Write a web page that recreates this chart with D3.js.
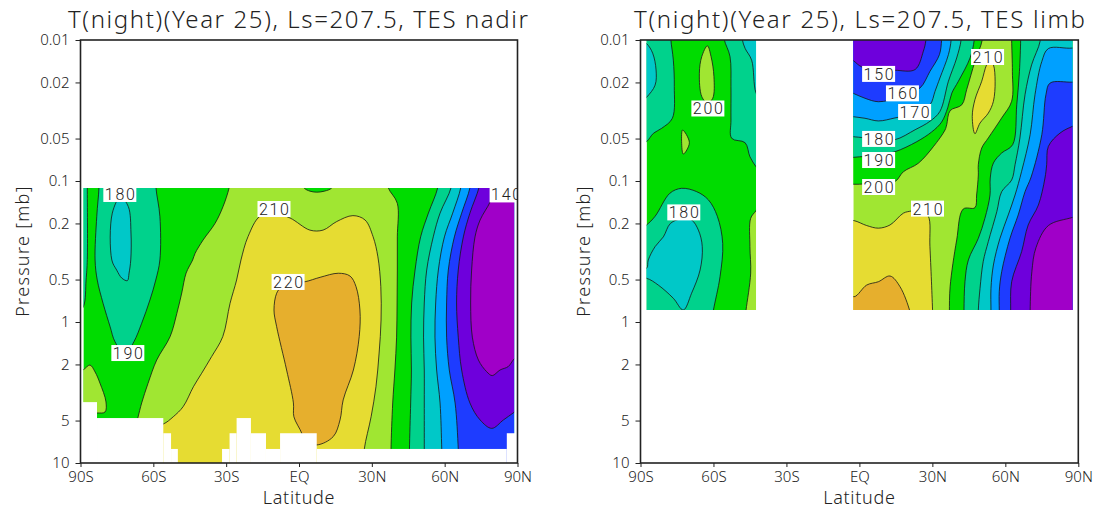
<!DOCTYPE html>
<html><head><meta charset="utf-8">
<script src="https://cdn.jsdelivr.net/npm/d3@7"></script>
<style>
html,body{margin:0;padding:0;background:#fff}
svg{display:block}
text{font-family:"Noto Sans","DejaVu Sans",sans-serif;font-weight:300;fill:#222}
</style></head><body><svg id="c" width="1095" height="511"></svg>
<script>
// Band colours between contour levels
const levels=[140,150,160,170,180,190,200,210,220];
const bandColours=["#a000c8","#6e00dc","#1e3cff","#00a0ff","#00c8c8","#00d28c","#00dc00","#a0e632","#e6dc32","#e6af2d"];
const latTicks=[-90,-60,-30,0,30,60,90];
const latTickLabels=["90S","60S","30S","EQ","30N","60N","90N"];
const pTicks=[0.01,0.02,0.05,0.1,0.2,0.5,1,2,5,10];
const pTickLabels=["0.01","0.02","0.05","0.1","0.2","0.5","1","2","5","10"];

// ---- TES nadir: isotherms as [latitude, pressure mb]
const nadirRange={lat:[-88.8,88.6],p:[0.112,10]};
const nadirWestSliver=[[-92,.09],[-87.2,.09],[-87.2,.112],[-87.2,.36],[-87.7,.504],[-88.8,.778],[-92,.9]];
const nadirWest190=[[-82.4,.09],[-82.4,.112],[-83.3,.178],[-84,.363],[-83.1,.504],[-80.7,.737],[-77.8,1.08],[-75.8,1.38],[-71.7,1.7],[-68,1.38],[-64.8,1.02],[-61.4,.698],[-59,.504],[-57.3,.363],[-57.3,.178],[-58.9,.112],[-58.9,.09]];
const nadirWest180=[[-73.5,.13],[-76.9,.169],[-77.1,.363],[-75.1,.428],[-73,.488],[-70.7,.509],[-70,.45],[-69.3,.363],[-69.2,.234],[-70.3,.152]];
const nadir200=[[36,.09],[36.8,.112],[40.5,.144],[40.5,.249],[40.5,.428],[40.4,.733],[40.2,1.28],[39.5,2.19],[38.6,3.75],[37.9,7.96],[37.9,11],[-69.6,11],[-69.6,8],[-66.4,4.8],[-64.8,3.75],[-62.2,2.73],[-58.6,1.86],[-53.1,1.27],[-50.3,.867],[-48.3,.623],[-46.5,.45],[-43.8,.363],[-42.8,.326],[-39.5,.262],[-34.6,.2],[-31.3,.152],[-28.8,.112],[-28,.09]];
const nadirNotch=[[1,.1],[2.1,.112],[4.5,.118],[7.3,.12],[10.5,.118],[13.5,.112],[14.5,.1]];
const nadirLobe=[[-92,2.26],[-89,2.19],[-86.1,2.02],[-84,2.26],[-82,2.71],[-79.5,3.69],[-79.9,4.35],[-83.2,4.42],[-92,4.42]];
const nadir210=[[-61.4,5.5],[-55.9,5.29],[-51.8,4.7],[-47.7,3.98],[-43.5,2.88],[-40.1,2.31],[-36,1.76],[-31.4,1.27],[-28.4,.737],[-25.7,.504],[-23.9,.363],[-21,.248],[-16.1,.178],[-10,.17],[-3.7,.183],[4.5,.223],[9.9,.223],[15.5,.194],[22.2,.176],[27.2,.189],[30.5,.248],[32.5,.345],[33.7,.562],[33.8,.968],[33,1.66],[31.7,2.88],[29.7,4.7],[26.9,7.96],[26.5,11],[-61.4,11]];
const nadir220=[[-3,.53],[2.5,.518],[8.7,.482],[16.2,.451],[21,.472],[23.5,.562],[25.1,.822],[24.8,1.27],[22.4,2.19],[18.2,3.57],[16.9,4.95],[14.1,6.5],[7.3,7.45],[2,7],[1.1,6.13],[-2.1,4.7],[-2.3,3.75],[-5.1,2.19],[-9.2,1.08],[-10.3,.822],[-9.2,.625],[-7.1,.562]];
const nadirE190=[[57.5,.09],[57.1,.112],[53.3,.169],[50.1,.249],[47.8,.428],[46.4,.733],[46.1,1.28],[46.3,2.19],[46,3.75],[45.5,7.96],[45.5,11],[95,11],[95,.09]];
const nadirE180=[[63,.09],[62.6,.112],[58.1,.169],[55.3,.249],[52.6,.428],[51.6,.733],[51.3,1.28],[51.6,2.19],[51.6,3.75],[51.6,7.96],[51.6,11],[95,11],[95,.09]];
const nadirE170=[[67,.09],[66.6,.112],[63.3,.169],[59.9,.249],[57.4,.428],[56.3,.733],[56,1.28],[56.7,2.19],[58.1,3.75],[58.8,7.96],[59,11],[95,11],[95,.09]];
const nadirE160=[[71,.09],[70.4,.112],[67,.169],[64,.249],[61.5,.428],[60.8,.733],[60.8,1.28],[61.9,2.19],[64.3,3.75],[65.6,7.96],[65.8,11],[95,11],[95,.09]];
const nadirE150=[[75,.09],[74.1,.112],[70.4,.169],[67.7,.249],[65.6,.428],[64.9,.733],[65.6,1.28],[67,2.19],[70.4,3.75],[74.6,4.95],[79.4,5.68],[84.2,4.95],[88.6,4.37],[95,3.6],[95,.09]];
const nadirE140=[[80,.09],[80,.12],[78.7,.141],[74.6,.189],[72.5,.249],[71.1,.428],[70.7,.733],[71.4,1.28],[73.9,1.86],[77.3,2.25],[79.6,2.4],[82.8,2.19],[86.2,2.07],[88.6,1.83],[95,1.5],[95,.09]];
// Missing data near the surface: [west lat, east lat, highest missing pressure]
const nadirMissing=[[-90,-83.2,3.7],[-83.2,-55.9,4.8],[-55.9,-52.7,6.15],[-52.7,-49.9,7.95],[-31.7,-28.6,7.95],[-28.6,-25.7,6.15],[-25.7,-19.8,4.8],[-19.8,-13.6,6.15],[-13.6,-7.8,7.95],[-7.8,7.3,6.15],[7.3,85.6,7.95],[85.6,90,6.15]];
const nadirLabels=[[-73.8,.1236,"180"],[-70.5,1.66,"190"],[-10.3,.158,"210"],[-4.5,.52,"220"],[85.3,.1245,"140"]];

// ---- TES limb, southern block
const limbSouthRange={lat:[-87.5,-42.5],p:[.01,.822]};
const limbSNW190=[[-77.5,.009],[-77.5,.01],[-76.5,.0139],[-76.1,.0214],[-76.9,.0359],[-81.3,.0423],[-84.7,.0459],[-87.5,.0526],[-92,.058],[-92,.009]];
const limbSNW180=[[-92,.0095],[-87.5,.0106],[-85,.0124],[-83.6,.0163],[-84,.0209],[-87.5,.0255],[-92,.03]];
const limbSNE190=[[-55.5,.009],[-55.5,.01],[-53.2,.0131],[-52.8,.0214],[-52.8,.0369],[-52.5,.0498],[-47,.0535],[-45,.0673],[-42.5,.0792],[-40,.09],[-40,.009]];
const limbSNE180=[[-48.1,.009],[-48.1,.01],[-47,.01146],[-44.3,.0139],[-42.5,.0237],[-40,.027],[-40,.009]];
const limbSLens1=[[-62.5,.011],[-64.8,.0131],[-65.8,.0172],[-64.8,.0252],[-62.5,.028],[-60.3,.0259],[-59.8,.0182],[-61,.0131]];
const limbSLens2=[[-72.7,.0435],[-73.1,.0526],[-72.4,.0644],[-69.9,.0535]];
const limbSLow190=[[-92,.23],[-87.5,.205],[-84,.178],[-77.9,.122],[-73.1,.1127],[-66.9,.119],[-62.1,.136],[-58.4,.178],[-56.2,.277],[-57.3,.477],[-60,.822],[-60.5,.95],[-92,.95]];
const limbSLow180=[[-92,.416],[-87.5,.416],[-86.8,.363],[-84,.292],[-80.6,.249],[-77.7,.2],[-73,.185],[-69,.189],[-66.2,.223],[-64.6,.292],[-65.5,.428],[-69,.625],[-72.4,.822],[-76.5,.679],[-82.7,.547],[-87.5,.49],[-92,.49]];
const limbSLow200=[[-40,.14],[-42.5,.1625],[-44.7,.184],[-45,.292],[-44.7,.45],[-46.6,.822],[-47,.95],[-40,.95]];
const limbSouthLabels=[[-62.3,.0306,"200"],[-72.2,.167,"180"]];

// ---- TES limb, northern block
const limbNorthRange={lat:[-2.5,87.6],p:[.01,.822]};
const limbNW200=[[50.5,.008],[50.5,.01],[47.5,.0142],[44.1,.0225],[42.1,.0288],[37.3,.0317],[35.9,.0399],[35.2,.0435],[30.4,.0571],[24.2,.0749],[18.1,.0859],[14.6,.101],[7.6,.103],[-2.2,.1055],[-5.9,.103],[-5.9,.008]];
const limbNW190=[[47.2,.008],[47.2,.01],[45.5,.0134],[40.7,.0196],[38,.0238],[36.3,.0303],[33.8,.0382],[29.7,.0449],[23.6,.0526],[14.6,.062],[7.6,.0654],[-2.2,.0679],[-5.9,.0688],[-5.9,.008]];
const limbNW180=[[41.8,.008],[41.8,.01],[40,.0134],[36.6,.0196],[33.1,.0321],[29,.0377],[22.9,.0433],[14.6,.0509],[7.6,.0502],[-2.5,.0485],[-5.9,.0477],[-5.9,.008]];
const limbNW170=[[37.7,.008],[37.7,.01],[36.6,.0127],[33.1,.0186],[31.1,.0231],[29,.0288],[22.9,.033],[14.6,.0357],[7.8,.0375],[2.3,.0359],[-2.5,.035],[-5.9,.0343],[-5.9,.008]];
const limbNW160=[[34,.008],[33.8,.01],[32.9,.0127],[29,.0167],[24.9,.0219],[16.7,.0254],[7.8,.0274],[2.3,.0259],[-2.5,.0239],[-5.9,.0226],[-5.9,.008]];
const limbNW150=[[27.3,.008],[27.3,.0101],[26.3,.012],[22.9,.0162],[14.6,.0164],[7.6,.0163],[.9,.0155],[-2.5,.014],[-5.9,.0128],[-5.9,.008]];
const limbNE200=[[62.6,.008],[62.6,.01],[62.9,.0167],[62.6,.0272],[58.5,.0357],[53,.0495],[50.3,.0583],[48.9,.0766],[48.9,.0906],[48.2,.1257],[47.5,.1546],[42.7,.158],[40,.262],[37.3,.562],[37,.845],[37,1],[95,1],[95,.008]];
const limbNE190=[[66.3,.008],[66.3,.01],[65.8,.0167],[64.7,.0288],[63,.0553],[58.5,.0633],[55.1,.0745],[53.8,.0952],[53.7,.1257],[51.6,.184],[48.9,.255],[44.8,.363],[43.4,.518],[43,.822],[43,1],[95,1],[95,.008]];
const limbNE180=[[74.3,.008],[74.3,.0102],[70.8,.015],[68.1,.0244],[66,.0495],[64,.0766],[62.6,.0984],[58.5,.119],[56.5,.165],[53,.269],[50.9,.373],[49.6,.577],[48.9,.822],[48.9,1],[95,1],[95,.008]];
const limbNE170=[[95,.0105],[87.7,.0114],[77.7,.0115],[75,.0142],[72.2,.0244],[70.2,.0469],[66.7,.0853],[64,.1257],[61.2,.174],[57.8,.255],[55.1,.394],[54.1,.577],[54.1,.822],[54.1,1],[95,1]];
const limbNE160=[[95,.0195],[87.7,.0199],[78.4,.0202],[76.7,.0244],[75,.0469],[70.6,.0937],[68.1,.119],[65.3,.174],[61.9,.255],[58.5,.44],[57.5,.61],[57.5,.822],[57.5,1],[95,1]];
const limbNE150=[[95,.037],[87.7,.0409],[82.5,.0457],[77.7,.0568],[77,.0766],[76.3,.0952],[73.6,.148],[69.4,.205],[66.7,.317],[62.6,.518],[62.2,.822],[62.2,1],[95,1]];
const limbNE140=[[95,.165],[87.7,.181],[77.7,.207],[72.6,.297],[70.9,.44],[70.2,.822],[70.2,1],[95,1]];
const limbNLens=[[53.7,.0139],[52.3,.015],[50.3,.0196],[47.5,.0265],[46.4,.0348],[47.5,.0462],[49.6,.0388],[53,.033],[55.1,.0272],[55.8,.0196],[55.1,.015]];
const limbNYellow=[[-6,.19],[-2.2,.191],[3,.207],[7.8,.216],[12.6,.205],[18.1,.169],[21.5,.163],[24.9,.158],[28.3,.177],[29,.292],[30.1,.845],[30.2,1],[-6,1]];
const limbNOrange=[[-6,.6],[-2.2,.662],[3,.547],[7.8,.518],[12.6,.472],[16.7,.562],[20.8,.845],[21.5,1],[-6,1]];
const limbNorthLabels=[[7.9,.0174,"150"],[17.7,.0239,"160"],[22.7,.0324,"170"],[7.9,.0503,"180"],[7.9,.071,"190"],[7.9,.1103,"200"],[28,.157,"210"],[52.7,.0132,"210"]];

const svg=d3.select("#c");
const colour=d3.scaleThreshold().domain(levels).range(bandColours);
const defs=svg.append("defs");
let uid=0;

function panel(o){
  const x=d3.scaleLinear().domain([-90,90]).range(o.xr);
  const y=d3.scaleLog().domain([10,.01]).range([463,40]);
  const g=svg.append("g");
  const line=d3.line().x(d=>x(d[0])).y(d=>y(d[1])).curve(d3.curveCatmullRomClosed.alpha(.5));
  o.blocks.forEach(b=>{
    const id="clip"+(uid++);
    defs.append("clipPath").attr("id",id).append("rect")
      .attr("x",x(b.range.lat[0])).attr("y",y(b.range.p[0]))
      .attr("width",x(b.range.lat[1])-x(b.range.lat[0]))
      .attr("height",y(b.range.p[1])-y(b.range.p[0]));
    const bg=g.append("g").attr("clip-path",`url(#${id})`);
    bg.append("rect").attr("x",x(b.range.lat[0])).attr("y",y(b.range.p[0]))
      .attr("width",x(b.range.lat[1])-x(b.range.lat[0]))
      .attr("height",y(b.range.p[1])-y(b.range.p[0]))
      .attr("fill",colour(b.base));
    bg.selectAll("path").data(b.regions).join("path")
      .attr("d",d=>line(d.pts)).attr("fill",d=>colour(d.t))
      .attr("stroke","#161616").attr("stroke-width",.8);
  });
  (o.missing||[]).forEach(m=>{
    g.append("rect").attr("x",x(m[0])).attr("y",y(m[2])).attr("width",x(m[1])-x(m[0]))
      .attr("height",y(10)-y(m[2])).attr("fill","#fff");
  });
  // contour labels, cut by the frame
  const fid="clip"+(uid++);
  defs.append("clipPath").attr("id",fid).append("rect").attr("x",o.xr[0]).attr("y",40)
    .attr("width",o.xr[1]-o.xr[0]).attr("height",423);
  const lg=g.append("g").attr("clip-path",`url(#${fid})`).selectAll("g").data(o.labels).join("g")
    .attr("transform",d=>`translate(${x(d[0])},${y(d[1])})`);
  lg.append("rect").attr("x",-16.5).attr("y",-8).attr("width",33).attr("height",16).attr("fill","#fff");
  lg.append("text").attr("text-anchor","middle").attr("y",6).attr("font-size",16)
    .style("font-family","Roboto,sans-serif")
    .attr("textLength",30).attr("lengthAdjust","spacing").text(d=>d[2]);
  // frame and axes
  g.append("rect").attr("x",o.xr[0]).attr("y",40).attr("width",o.xr[1]-o.xr[0]).attr("height",423)
    .attr("fill","none").attr("stroke","#222").attr("stroke-width",1.6);
  const ax=g.append("g").attr("transform","translate(0,463)")
    .call(d3.axisBottom(x).tickValues(latTicks).tickSize(4).tickPadding(4).tickFormat((d,i)=>latTickLabels[i]));
  const ay=g.append("g").attr("transform",`translate(${o.xr[0]},0)`)
    .call(d3.axisLeft(y).tickValues(pTicks).tickSize(5).tickPadding(6).tickFormat((d,i)=>pTickLabels[i]));
  [ax,ay].forEach(a=>{
    a.select(".domain").remove();
    a.selectAll("line").attr("stroke","#222").attr("stroke-width",1);
    a.selectAll("text").attr("font-size",15).attr("fill","#333").style("font-family",'"Noto Sans",sans-serif').attr("font-weight",300);
  });
  g.append("text").attr("x",(o.xr[0]+o.xr[1])/2).attr("y",504).attr("text-anchor","middle")
    .attr("font-size",18).attr("letter-spacing",.7).text("Latitude");
  g.append("text").attr("transform",`translate(${o.yLabelX},251) rotate(-90)`).attr("text-anchor","middle")
    .attr("font-size",18).attr("letter-spacing",1.3).text("Pressure [mb]");
  g.append("text").attr("x",o.titleX[0]).attr("y",28).attr("font-size",24)
    .attr("textLength",o.titleX[1]-o.titleX[0]).attr("lengthAdjust","spacing").text(o.title);
}

panel({xr:[80.5,517.5],yLabelX:29,titleX:[68,528],title:"T(night)(Year 25), Ls=207.5, TES nadir",
  missing:nadirMissing,labels:nadirLabels,
  blocks:[{range:nadirRange,base:195,regions:[
    {t:185,pts:nadirWestSliver},{t:185,pts:nadirWest190},{t:175,pts:nadirWest180},
    {t:205,pts:nadir200},{t:195,pts:nadirNotch},{t:205,pts:nadirLobe},{t:215,pts:nadir210},{t:225,pts:nadir220},
    {t:185,pts:nadirE190},{t:175,pts:nadirE180},{t:165,pts:nadirE170},{t:155,pts:nadirE160},{t:145,pts:nadirE150},{t:135,pts:nadirE140}]}]});

panel({xr:[640.5,1078.3],yLabelX:590,titleX:[634,1085],title:"T(night)(Year 25), Ls=207.5, TES limb",
  labels:limbSouthLabels.concat(limbNorthLabels),
  blocks:[
   {range:limbSouthRange,base:195,regions:[
    {t:185,pts:limbSNW190},{t:175,pts:limbSNW180},{t:185,pts:limbSNE190},{t:175,pts:limbSNE180},
    {t:205,pts:limbSLens1},{t:205,pts:limbSLens2},{t:185,pts:limbSLow190},{t:175,pts:limbSLow180},{t:205,pts:limbSLow200}]},
   {range:limbNorthRange,base:205,regions:[
    {t:195,pts:limbNW200},{t:185,pts:limbNW190},{t:175,pts:limbNW180},{t:165,pts:limbNW170},{t:155,pts:limbNW160},{t:145,pts:limbNW150},
    {t:195,pts:limbNE200},{t:185,pts:limbNE190},{t:175,pts:limbNE180},{t:165,pts:limbNE170},{t:155,pts:limbNE160},{t:145,pts:limbNE150},{t:135,pts:limbNE140},
    {t:215,pts:limbNLens},{t:215,pts:limbNYellow},{t:225,pts:limbNOrange}]}]});
</script></body></html>
